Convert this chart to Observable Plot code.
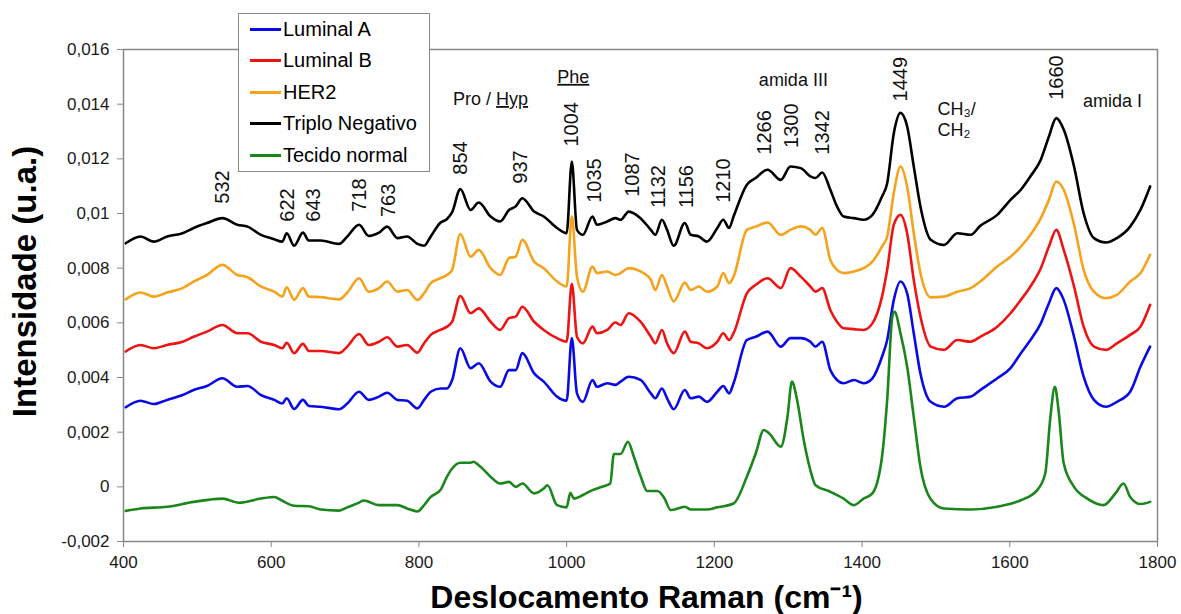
<!DOCTYPE html>
<html><head><meta charset="utf-8">
<script src="https://cdn.jsdelivr.net/npm/d3@7"></script>
<script src="https://cdn.jsdelivr.net/npm/@observablehq/plot@0.6"></script>
<style>
body{margin:0;background:#fff;}
#wrap{position:relative;width:1181px;height:614px;font-family:"Liberation Sans",Arial,sans-serif;}
#legend{position:absolute;left:238px;top:13px;width:192px;height:159px;border:1px solid #8a8a8a;background:#fff;box-sizing:border-box;}
.row{position:absolute;left:11px;height:22px;display:flex;align-items:center;font-size:20px;color:#000;white-space:nowrap;}
.sw{width:31px;height:3px;margin-right:2px;}
</style></head><body><div id="wrap"><div id="chart"></div><div id="legend"></div></div>
<script>
// ---- data ----
const seriesNames = ["Luminal A", "Luminal B", "HER2", "Triplo Negativo", "Tecido normal"];
const seriesColors = ["#0a0ae6", "#ee1414", "#f5a31c", "#000000", "#1b861b"];

// shared wavenumber grid (cm-1) of the four tumour spectra
const tumourWn = [403,423,441,459,480,495,513,534,554,568,586,604,615,621,631,643,651,667,692,703,719,732,746,757,771,784,798,
807,816,829,838,845,856,870,881,897,910,922,931,940,956,969,987,1000,1007,1014,1022,1035,1041,1055,1066,1073,1084,1100,1114,1120,1129,1136,1145,1160,1168,1179,1190,
1204,1212,1220,1226,1244,1256,1272,1290,1303,1317,1330,1337,1346,1357,1366,1375,1389,1402,1414,1427,1434,1443,1452,1461,1470,1479,
1493,1511,1529,1547,1560,1583,1601,1615,1628,1642,1653,1663,1673,1687,1700,1714,1730,1745,1763,1777,1790];

const luminalA = [0.00291,0.00315,0.00303,0.00318,0.00336,0.00354,0.00369,0.00397,0.00366,0.00369,0.00336,0.00318,0.00305,0.00324,0.00285,0.00318,0.00296,0.00293,0.00284,0.00305,0.00348,0.00318,0.0033,0.00344,0.00318,0.00315,0.00287,
0.00318,0.00348,0.0036,0.0036,0.00391,0.00507,0.00434,0.00452,0.00385,0.00366,
0.00427,0.00427,0.00489,0.00415,0.00385,0.0033,0.00315,0.00544,0.00342,0.00311,
0.00391,0.00366,0.00379,0.00373,0.00385,0.00403,0.00391,0.00342,0.00324,0.0036,
0.00324,0.00284,0.00354,0.00324,0.0033,0.00311,
0.00348,0.00369,0.00342,0.00379,0.00537,0.00549,0.00568,0.00513,0.00544,0.00544,
0.00531,0.00513,0.00531,0.00427,0.00391,0.00379,0.00391,0.00379,0.00397,0.00476,
0.00537,0.00684,0.00751,0.00708,0.00562,0.00415,
0.00311,0.00293,0.00324,0.0033,0.00354,0.00397,0.00434,0.00489,0.00537,0.00598,
0.00672,0.00727,0.00684,0.00549,0.00403,0.00318,0.00293,0.00311,0.00348,0.0044,
0.00513];

const luminalB = [0.00495,0.00519,0.00507,0.00519,0.00531,0.00549,0.00568,0.00592,0.00562,0.00562,0.00531,0.00519,0.00507,0.00527,0.00489,0.00523,0.00497,0.00497,0.00489,0.00513,0.00559,0.00519,0.00531,0.00547,0.00513,0.00519,0.00491,
0.00525,0.00556,0.00574,0.00586,0.00604,0.00698,0.00635,0.00653,0.00604,0.00574,
0.00617,0.00623,0.00659,0.00604,0.00574,0.00544,0.00531,0.00743,0.00549,0.00525,
0.00586,0.00562,0.00574,0.00601,0.00592,0.00635,0.00604,0.00549,0.00525,0.00574,
0.00525,0.00489,0.00568,0.00531,0.00525,0.00507,
0.00531,0.00562,0.00537,0.00562,0.00708,0.00739,0.00763,0.00727,0.008,0.00769,
0.00733,0.00714,0.00727,0.00647,0.00604,0.0058,0.00577,0.00574,0.00598,0.00696,
0.00794,0.00959,0.00995,0.00928,0.00757,0.00623,
0.00513,0.00501,0.00537,0.00531,0.00549,0.00586,0.00635,0.00684,0.00733,0.008,
0.00879,0.0094,0.00867,0.00733,0.00586,0.00513,0.00501,0.00525,0.00556,0.00586,
0.00666];

const her2 = [0.00686,0.00711,0.00696,0.00711,0.00727,0.00751,0.00775,0.00812,0.00775,0.00767,0.00733,0.00714,0.00696,0.0073,0.00684,0.00727,0.00696,0.00694,0.00686,0.00711,0.00763,0.00714,0.00727,0.00751,0.00714,0.0072,0.00684,
0.00708,0.00745,0.00763,0.00775,0.00794,0.00925,0.00842,0.00867,0.008,0.00775,
0.00837,0.00842,0.00904,0.00824,0.008,0.00751,0.00733,0.0099,0.00769,0.00714,
0.00806,0.00782,0.00788,0.00775,0.00782,0.008,0.00788,0.00757,0.0072,0.00775,
0.00733,0.00678,0.00747,0.0072,0.00733,0.00714,
0.00733,0.00782,0.00745,0.00769,0.0094,0.00952,0.00967,0.00922,0.0094,0.00953,
0.0094,0.00922,0.00947,0.0083,0.00794,0.00782,0.00788,0.008,0.00824,0.00879,
0.00916,0.01075,0.01172,0.01099,0.00928,0.00782,
0.00693,0.00696,0.00714,0.00727,0.00751,0.00806,0.00842,0.00879,0.00922,0.00983,
0.0105,0.01117,0.01087,0.00959,0.00794,0.00714,0.0069,0.00702,0.00751,0.00782,
0.00849];

const triploNegativo = [0.00891,0.00916,0.00897,0.00916,0.00928,0.00947,0.00965,0.00983,0.00959,0.00952,0.00922,0.00906,0.00897,0.00928,0.00882,0.0093,0.00901,0.00901,0.00889,0.00916,0.00959,0.00918,0.0093,0.00952,0.0091,0.00916,0.00889,
0.00882,0.00916,0.00966,0.0098,0.01005,0.01089,0.01013,0.0104,0.00989,0.00971,
0.01013,0.01026,0.01056,0.01007,0.00989,0.00947,0.00928,0.0119,0.0094,0.00922,
0.00989,0.00959,0.00971,0.00983,0.00977,0.01007,0.00983,0.0094,0.00922,0.00977,
0.0094,0.00882,0.00965,0.00922,0.00916,0.00897,
0.00947,0.00977,0.00947,0.00989,0.01105,0.0113,0.0116,0.01123,0.01172,0.01166,
0.01136,0.0113,0.0115,0.01087,0.01026,0.00989,0.00983,0.00977,0.00995,0.01062,
0.01111,0.01294,0.01368,0.01319,0.01172,0.01026,
0.00904,0.00885,0.00928,0.00922,0.00955,0.00995,0.0105,0.01087,0.01136,0.01197,
0.01282,0.01349,0.01307,0.01172,0.01001,0.0091,0.00894,0.0091,0.00952,0.01014,
0.01099];

// normal tissue spectrum, own wavenumber grid
const normalWn = [403,423,459,495,534,556,586,604,615,631,651,667,692,703,719,725,746,771,784,798,
807,816,829,838,845,856,870,874,881,897,910,922,931,940,956,969,974,987,1000,1005,1010,1022,1035,1048,1059,1064,1073,1083,1091,1100,1109,1123,1132,1141,1160,1168,1190,
1204,1226,1244,1256,1267,1274,1290,1299,1305,1312,1321,1330,1337,1357,1375,1389,1402,1414,1427,1434,1441,1444,1452,1461,1470,1479,
1493,1511,1547,1583,1615,1637,1648,1655,1661,1666,1673,1687,1705,1727,1743,1754,1763,1777,1790];
const tecidoNormal = [-0.00088,-0.00079,-0.00073,-0.00055,-0.00043,-0.00058,-0.00043,-0.00037,-0.00051,-0.00069,-0.00071,-0.00083,-0.00087,-0.00075,-0.00058,-0.0005,-0.00067,-0.00067,-0.00079,-0.0009,
-0.00067,-0.00037,-0.00012,0.00037,0.00067,0.00088,0.00088,0.00092,0.00079,0.00037,0.00012,0.00018,0.0,0.00012,-0.00024,-0.00006,0.00006,-0.00067,-0.00075,-0.00022,-0.00043,-0.0003,-0.00012,0.0,0.00012,0.0012,0.0012,0.00165,0.0011,0.0004,-0.00015,-0.00015,-0.0004,-0.00085,-0.00073,-0.00083,-0.00083,
-0.00075,-0.00061,0.00037,0.00122,0.00208,0.00196,0.00147,0.00256,0.00385,0.00318,0.00171,0.00061,0.00006,-0.00018,-0.00043,-0.00067,-0.00043,-0.00024,0.0011,0.00318,0.00623,0.0064,0.00562,0.0044,0.00256,0.00073,
-0.00045,-0.00079,-0.00083,-0.00073,-0.00049,-0.00012,0.00049,0.00256,0.00366,0.00281,0.00086,0.0,-0.00043,-0.00067,-0.00024,0.00012,-0.00037,-0.00063,-0.00055];

// axes
const xTicks = [400, 600, 800, 1000, 1200, 1400, 1600, 1800];
const xTickLabels = ["400", "600", "800", "1000", "1200", "1400", "1600", "1800"];
const yTicks = [-0.002, 0, 0.002, 0.004, 0.006, 0.008, 0.01, 0.012, 0.014, 0.016];
const yTickLabels = ["-0,002", "0", "0,002", "0,004", "0,006", "0,008", "0,01", "0,012", "0,014", "0,016"];
const xLabel = "Deslocamento Raman (cm\u207B\u00B9)";
const yLabel = "Intensidade (u.a.)";

// peak annotations (label, label position)
const peakLabels = ["532","622","643","718","763","854","937","1004","1035","1087","1132","1156","1210","1266","1300","1342","1449","1660"];
const peakLabelX = [534,622,657,719,759,856,938,1007,1038,1089,1124,1162,1212,1268,1304,1346,1452,1664];
const peakLabelY = [0.01036,0.0097,0.0097,0.01006,0.00987,0.01142,0.01109,0.01245,0.01039,0.01061,0.0102,0.0102,0.01039,0.01215,0.0124,0.01215,0.0141,0.01416];
const bandLabels = ["Pro / Hyp", "Phe", "amida III", "amida I"];
const bandLabelX = [897, 1009, 1307, 1739];
const bandLabelY = [0.01418, 0.01499, 0.01489, 0.0141];
const groupLabels = ["CH\u2083/", "CH\u2082"];
const groupLabelX = [1502, 1502];
const groupLabelY = [0.0138, 0.01306];

// ---- build ----
const seriesX = [tumourWn, tumourWn, tumourWn, tumourWn, normalWn];
const seriesY = [luminalA, luminalB, her2, triploNegativo, tecidoNormal];
const rows = [];
seriesNames.forEach((name, k) => {
  seriesY[k].forEach((v, i) => rows.push({name, wn: seriesX[k][i], val: v}));
  if (seriesY[k].length !== seriesX[k].length) console.error("length mismatch", name, seriesX[k].length, seriesY[k].length);
});

const font = "Liberation Sans, Arial, sans-serif";
const chart = Plot.plot({
  width: 1181,
  height: 614,
  marginLeft: 123,
  marginRight: 24,
  marginTop: 49,
  marginBottom: 73,
  style: {fontFamily: font, background: "#fff", color: "#1a1a1a"},
  x: {domain: [400, 1800]},
  y: {domain: [-0.002, 0.016]},
  color: {domain: seriesNames, range: seriesColors},
  marks: [
    Plot.axisX({ticks: xTicks, tickFormat: d => xTickLabels[xTicks.indexOf(d)], tickSize: 6, tickPadding: 8, fontSize: 17, stroke: "#888", label: null}),
    Plot.axisY({ticks: yTicks, tickFormat: d => yTickLabels[yTicks.indexOf(d)], tickSize: 6, tickPadding: 8, fontSize: 17, stroke: "#888", label: null}),
    ...seriesNames.map((name, k) => Plot.line(rows.filter(r => r.name === name), {x: "wn", y: "val", stroke: seriesColors[k], strokeWidth: 2.6, strokeLinejoin: "round", curve: "monotone-x"})),
    Plot.frame({stroke: "#888", strokeWidth: 1.5}),
    Plot.text(peakLabels, {x: peakLabelX, y: peakLabelY, text: peakLabels, rotate: -90, textAnchor: "start", fontSize: 20, fill: "#111"}),
    Plot.text(bandLabels, {x: bandLabelX, y: bandLabelY, text: bandLabels, textAnchor: "middle", fontSize: 18, fill: "#111"}),
    Plot.text(groupLabels, {x: groupLabelX, y: groupLabelY, text: groupLabels, textAnchor: "start", fontSize: 18, fill: "#111"}),
    Plot.text([yLabel], {text: d => d, frameAnchor: "left", textAnchor: "middle", rotate: -90, dx: -98, dy: -14, fontSize: 33, fontWeight: "bold", fill: "#000"}),
    Plot.text([xLabel], {text: d => d, frameAnchor: "bottom", textAnchor: "middle", dx: 6, dy: 66, fontSize: 32, fontWeight: "bold", fill: "#000"})
  ]
});
document.getElementById("chart").appendChild(chart);

// underline "Phe" and "Hyp" like the reference
d3.select(chart).selectAll("text").each(function() {
  const t = this.textContent;
  if (t === "Phe") {
    d3.select(this).style("text-decoration", "underline");
  } else if (t === "Pro / Hyp") {
    const sel = d3.select(this);
    sel.text(null);
    sel.append("tspan").text("Pro / ");
    sel.append("tspan").text("Hyp").style("text-decoration", "underline");
  }
});

// legend
const legend = document.getElementById("legend");
seriesNames.forEach((name, i) => {
  const row = document.createElement("div");
  row.className = "row";
  row.style.top = (16 + i * 31.5 - 12) + "px";
  const sw = document.createElement("div");
  sw.className = "sw";
  sw.style.background = seriesColors[i];
  const label = document.createElement("span");
  label.textContent = name;
  row.appendChild(sw);
  row.appendChild(label);
  legend.appendChild(row);
});
</script></body></html>
